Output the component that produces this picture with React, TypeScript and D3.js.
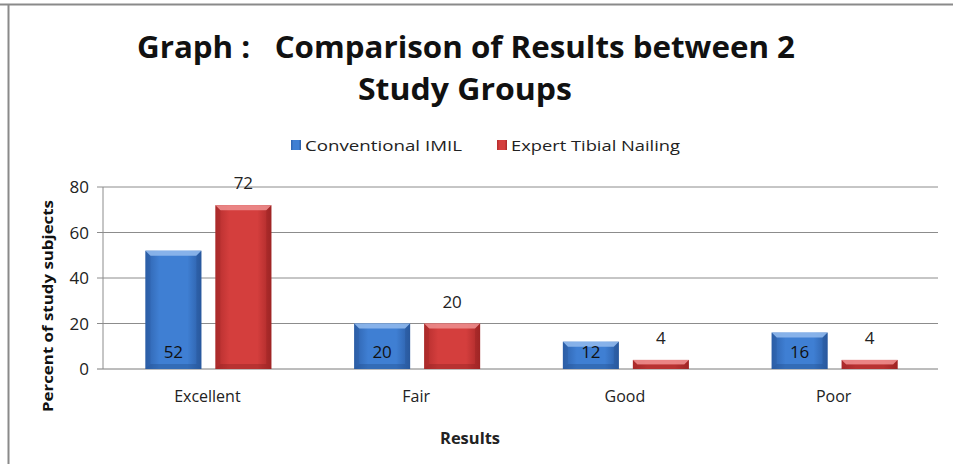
import React from "react";
import * as d3 from "d3";

const categories = ["Excellent", "Fair", "Good", "Poor"];
const conventional = [52, 20, 12, 16];
const expert = [72, 20, 4, 4];
const yTicks = [0, 20, 40, 60, 80];
const seriesNames = ["Conventional IMIL", "Expert Tibial Nailing"];

const W = 953;
const H = 464;
const left = 103;
const right = 938;
const top = 187;
const bottom = 369;

export default function App() {
  const x = d3.scaleBand<string>().domain(categories).range([left, right]).padding(0);
  const y = d3.scaleLinear().domain([0, 80]).range([bottom, top]);
  const barW = 56;
  const gap = 14;
  const font = "'Open Sans', 'DejaVu Sans', sans-serif";

  const bar = (cx: number, v: number, kind: "b" | "r", key: string) => {
    const x0 = cx;
    const y0 = y(v);
    const h = bottom - y0;
    const bev = Math.min(5, h / 2);
    const light = kind === "b" ? "#8fb8ec" : "#ec8c8c";
    const dark = kind === "b" ? "#24508f" : "#8e2020";
    return (
      <g key={key}>
        <rect x={x0} y={y0} width={barW} height={h} fill={`url(#grad-${kind})`} />
        <polygon
          points={`${x0},${y0} ${x0 + barW},${y0} ${x0 + barW - bev},${y0 + bev} ${x0 + bev},${y0 + bev}`}
          fill={light}
          opacity={0.9}
        />
        <polygon
          points={`${x0},${y0} ${x0 + bev},${y0 + bev} ${x0 + bev},${bottom - bev} ${x0},${bottom}`}
          fill={dark}
          opacity={0.25}
        />
        <polygon
          points={`${x0 + barW},${y0} ${x0 + barW - bev},${y0 + bev} ${x0 + barW - bev},${bottom - bev} ${x0 + barW},${bottom}`}
          fill={dark}
          opacity={0.35}
        />
        <polygon
          points={`${x0},${bottom} ${x0 + bev},${bottom - bev} ${x0 + barW - bev},${bottom - bev} ${x0 + barW},${bottom}`}
          fill={dark}
          opacity={0.4}
        />
      </g>
    );
  };

  return (
    <svg
      width={W}
      height={H}
      style={{ position: "absolute", left: 0, top: 0, background: "#fff" }}
    >
      <defs>
        <linearGradient id="grad-b" x1="0" x2="1" y1="0" y2="0">
          <stop offset="0" stopColor="#2e62ad" />
          <stop offset="0.25" stopColor="#3f7fd3" />
          <stop offset="0.75" stopColor="#3f7fd3" />
          <stop offset="1" stopColor="#2b5da5" />
        </linearGradient>
        <linearGradient id="grad-r" x1="0" x2="1" y1="0" y2="0">
          <stop offset="0" stopColor="#b32d2d" />
          <stop offset="0.25" stopColor="#d43e3d" />
          <stop offset="0.75" stopColor="#d43e3d" />
          <stop offset="1" stopColor="#a82828" />
        </linearGradient>
      </defs>
      <rect x={0} y={0} width={W} height={H} fill="#fff" />
      <line x1={0} x2={W} y1={4.5} y2={4.5} stroke="#8a8a8a" strokeWidth={2} />
      <line x1={8.5} x2={8.5} y1={4} y2={H} stroke="#8a8a8a" strokeWidth={2} />

      <text
        x={466}
        y={58}
        textAnchor="middle"
        fontFamily={font}
        fontWeight="bold"
        fontSize={31}
        fill="#111"
        textLength={658}
        lengthAdjust="spacingAndGlyphs"
        xmlSpace="preserve"
      >
        Graph :   Comparison of Results between 2
      </text>
      <text
        x={465}
        y={100}
        textAnchor="middle"
        fontFamily={font}
        fontWeight="bold"
        fontSize={31}
        fill="#111"
        textLength={214}
        lengthAdjust="spacingAndGlyphs"
      >
        Study Groups
      </text>

      {/* legend */}
      <rect x={291} y={140} width={10} height={10} fill="url(#grad-b)" />
      <text x={305} y={151} fontFamily={font} fontSize={15} fill="#222" textLength={157} lengthAdjust="spacingAndGlyphs">
        {seriesNames[0]}
      </text>
      <rect x={497} y={140} width={10} height={10} fill="url(#grad-r)" />
      <text x={511} y={151} fontFamily={font} fontSize={15} fill="#222" textLength={169} lengthAdjust="spacingAndGlyphs">
        {seriesNames[1]}
      </text>

      {/* grid */}
      {yTicks.map((t) => (
        <g key={t}>
          <line x1={left - 6} x2={right} y1={y(t)} y2={y(t)} stroke={t === 0 ? "#7a7a7a" : "#8c8c8c"} strokeWidth={1} />
          <text x={89} y={y(t) + 6} textAnchor="end" fontFamily={font} fontSize={17} fill="#222">
            {t}
          </text>
        </g>
      ))}
      <line x1={left} x2={left} y1={top} y2={bottom} stroke="#8c8c8c" strokeWidth={1} />

      {/* bars */}
      {categories.map((c, i) => {
        const center = (x(c) as number) + x.bandwidth() / 2 + 1;
        const bx = center - (barW * 2 + gap) / 2;
        const rx = bx + barW + gap;
        return (
          <g key={c}>
            {bar(bx, conventional[i], "b", c + "b")}
            {bar(rx, expert[i], "r", c + "r")}
            <text x={bx + barW / 2} y={358} textAnchor="middle" fontFamily={font} fontSize={17} fill="#111">
              {conventional[i]}
            </text>
            <text x={rx + barW / 2} y={y(expert[i]) - 16} textAnchor="middle" fontFamily={font} fontSize={17} fill="#222">
              {expert[i]}
            </text>
            <text x={center - 1} y={402} textAnchor="middle" fontFamily={font} fontSize={16} fill="#222">
              {c}
            </text>
          </g>
        );
      })}

      {/* axis titles */}
      <text
        transform={`translate(53,${306}) rotate(-90)`}
        textAnchor="middle"
        fontFamily={font}
        fontWeight="bold"
        fontSize={15}
        fill="#111"
        textLength={212}
        lengthAdjust="spacingAndGlyphs"
      >
        Percent of study subjects
      </text>
      <text x={470} y={444} textAnchor="middle" fontFamily={font} fontWeight="bold" fontSize={16} fill="#222" textLength={60} lengthAdjust="spacingAndGlyphs">
        Results
      </text>
    </svg>
  );
}
